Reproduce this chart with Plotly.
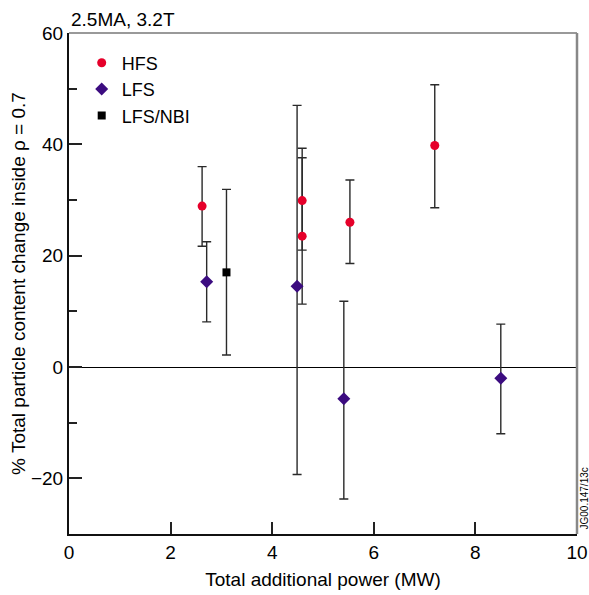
import plotly.graph_objects as go

# HFS data
hfs_x = [2.62, 4.59, 4.59, 5.53, 7.20]
hfs_y = [28.9, 29.9, 23.5, 26.0, 39.8]
hfs_err_plus = [7.1, 9.4, 14.1, 7.6, 10.9]
hfs_err_minus = [7.2, 8.9, 12.2, 7.4, 11.2]

# LFS data
lfs_x = [2.71, 4.49, 5.41, 8.50]
lfs_y = [15.3, 14.5, -5.7, -2.0]
lfs_err_plus = [7.2, 32.5, 17.5, 9.7]
lfs_err_minus = [7.2, 33.8, 18.0, 10.0]

# LFS/NBI data
nbi_x = [3.10]
nbi_y = [17.0]
nbi_err_plus = [14.9]
nbi_err_minus = [14.85]

x_ticks = [0, 2, 4, 6, 8, 10]
y_ticks = [-20, 0, 20, 40, 60]

FONT = "Liberation Sans, Arial, Helvetica, sans-serif"
ERR_COLOR = "#2a2a2a"

def err(plus, minus):
    return dict(type="data", symmetric=False, array=plus, arrayminus=minus,
                color=ERR_COLOR, thickness=1.4, width=4.5)

fig = go.Figure()
fig.add_trace(go.Scatter(x=hfs_x, y=hfs_y, mode="markers", name="HFS",
                         marker=dict(symbol="circle", size=9, color="#e6002a"),
                         error_y=err(hfs_err_plus, hfs_err_minus)))
fig.add_trace(go.Scatter(x=lfs_x, y=lfs_y, mode="markers", name="LFS",
                         marker=dict(symbol="diamond", size=10, color="#3c0c80"),
                         error_y=err(lfs_err_plus, lfs_err_minus)))
fig.add_trace(go.Scatter(x=nbi_x, y=nbi_y, mode="markers", name="LFS/NBI",
                         marker=dict(symbol="square", size=8, color="#000000"),
                         error_y=err(nbi_err_plus, nbi_err_minus)))

fig.update_layout(
    width=589, height=595,
    margin=dict(l=69, r=12, t=33, b=61, autoexpand=False),
    paper_bgcolor="white", plot_bgcolor="white",
    font=dict(family=FONT, size=19, color="black"),
    showlegend=True,
    legend=dict(x=0.025, y=0.977, xanchor="left", yanchor="top",
                bgcolor="rgba(0,0,0,0)", font=dict(size=18),
                tracegroupgap=0, itemwidth=30),
    xaxis=dict(range=[0, 10], tickvals=x_ticks, ticktext=[str(v) for v in x_ticks],
               ticks="inside", ticklen=12, tickwidth=1.5, tickcolor="#222",
               showline=True, linecolor="#111", linewidth=2, automargin=False,
               showgrid=False, zeroline=False,
               title=dict(text="Total additional power (MW)", standoff=11,
                          font=dict(size=19))),
    yaxis=dict(range=[-30, 60], tickvals=y_ticks,
               ticktext=[("\u2212" + str(-v)) if v < 0 else str(v) for v in y_ticks],
               ticks="inside", ticklen=13, tickwidth=1.5, tickcolor="#222",
               minor=dict(dtick=10, tick0=0, ticks="inside", ticklen=8,
                          tickwidth=1.5, tickcolor="#222"),
               showline=True, linecolor="#111", linewidth=2, automargin=False,
               showgrid=False, zeroline=True, zerolinecolor="black", zerolinewidth=1.3,
               title=dict(text="% Total particle content change inside \u03c1 = 0.7",
                          standoff=0, font=dict(size=19))),
    shapes=[
        dict(type="line", xref="paper", yref="paper", x0=0, x1=1, y0=1, y1=1,
             line=dict(color="#777", width=1.5)),
        dict(type="line", xref="paper", yref="paper", x0=1, x1=1, y0=0, y1=1,
             line=dict(color="#888", width=2.5)),
    ],
    annotations=[
        dict(text="2.5MA, 3.2T", xref="paper", yref="paper", x=0, y=1,
             xanchor="left", yanchor="bottom", yshift=1, showarrow=False,
             font=dict(size=19)),
        dict(text="JG00.147/13c", xref="paper", yref="paper", x=1, y=0,
             xanchor="left", yanchor="bottom", xshift=-1, yshift=2, textangle=-90,
             showarrow=False, font=dict(size=10)),
    ],
)

fig.write_html("out.html")
